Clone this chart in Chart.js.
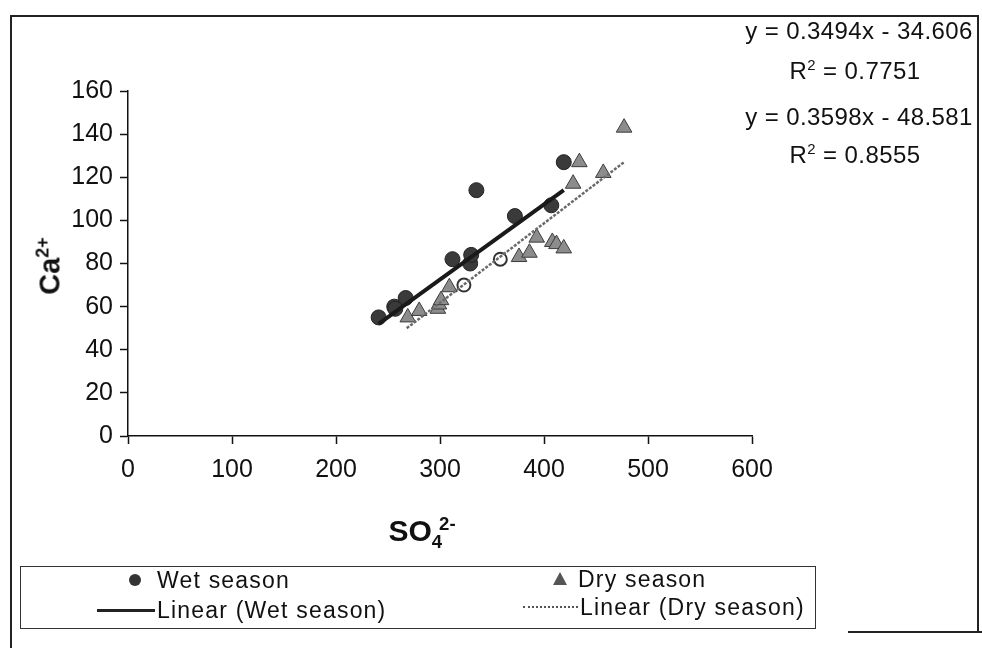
<!DOCTYPE html>
<html>
<head>
<meta charset="utf-8">
<script src="https://cdn.jsdelivr.net/npm/chart.js@4.4.1/dist/chart.umd.min.js"></script>
<style>
  html, body { margin: 0; padding: 0; background: #fff; }
  #wrap { position: relative; width: 982px; height: 648px; overflow: hidden; background: #fff;
          font-family: "Liberation Sans", Arial, sans-serif; color: #111; }
  #c { position: absolute; left: 0; top: 0; }
  .t { position: absolute; white-space: nowrap; line-height: 1; }
  .ctr { transform: translate(-50%, -50%); }
  .eq { font-size: 24px; letter-spacing: 0.4px; }
  .lg { font-size: 23px; letter-spacing: 1.2px; transform: translateY(-50%); }
  sup, sub { font-size: 62%; line-height: 0; }
  .line { position: absolute; background: #222; }
</style>
</head>
<body>
<div id="wrap">
  <canvas id="c" width="982" height="648"></canvas>

  <!-- frame -->
  <div class="line" style="left:10px; top:15px; width:2px; height:633px;"></div>
  <div class="line" style="left:10px; top:15px; width:969px; height:2px;"></div>
  <div class="line" style="left:977px; top:15px; width:2px; height:618px;"></div>
  <div class="line" style="left:848px; top:631px; width:134px; height:2px;"></div>

  <!-- equations -->
  <div class="t eq ctr" id="eq1" style="left:859px; top:31px;"></div>
  <div class="t eq ctr" id="r1" style="left:855px; top:71px;"></div>
  <div class="t eq ctr" id="eq2" style="left:859px; top:117px;"></div>
  <div class="t eq ctr" id="r2" style="left:855px; top:155px;"></div>

  <!-- axis titles -->
  <div class="t" id="ytitle" style="left:50px; top:266px; font-weight:bold; font-size:29px; transform: translate(-50%,-50%) rotate(-90deg);">Ca<sup>2+</sup></div>
  <div class="t" id="xtitle" style="left:422px; top:531px; font-weight:bold; font-size:30px; transform: translate(-50%,-50%);">SO<sub>4</sub><sup style="margin-left:-3px">2-</sup></div>

  <!-- legend box -->
  <div style="position:absolute; left:20px; top:566px; width:794px; height:61px; border:1px solid #333;"></div>
  <div style="position:absolute; left:129px; top:574px; width:12px; height:12px; border-radius:50%; background:#333;"></div>
  <div class="t lg" id="lg1" style="left:157px; top:580px;"></div>
  <div class="line" style="left:97px; top:609px; width:58px; height:3px; background:#222;"></div>
  <div class="t lg" id="lg2" style="left:157px; top:610px;"></div>
  <div style="position:absolute; left:553px; top:572px; width:0; height:0; border-left:7px solid transparent; border-right:7px solid transparent; border-bottom:13px solid #555;"></div>
  <div class="t lg" id="lg3" style="left:578px; top:579px;"></div>
  <div style="position:absolute; left:523px; top:606px; width:55px; height:0; border-top:2px dotted #555;"></div>
  <div class="t lg" id="lg4" style="left:580px; top:607px;"></div>
</div>

<script>
// ---- data ----
const wetX = [241, 256, 257, 267, 312, 329, 330, 335, 372, 407, 419];
const wetY = [55, 60, 59, 64, 82, 80, 84, 114, 102, 107, 127];
const wetHollowX = [323, 358];
const wetHollowY = [70, 82];
const dryX = [269, 280, 298, 299, 301, 309, 376, 386, 393, 408, 412, 419, 428, 434, 457, 477];
const dryY = [55, 58, 59, 61, 63, 69, 83, 85, 92, 90, 89, 87, 117, 127, 122, 143];
const wetTrendX = [241, 419];
const wetTrendY = [52, 114];
const dryTrendX = [268, 477];
const dryTrendY = [50, 127];
const xTicks = [0, 100, 200, 300, 400, 500, 600];
const yTicks = [0, 20, 40, 60, 80, 100, 120, 140, 160];
const seriesNames = ["Wet season", "Dry season", "Linear (Wet season)", "Linear (Dry season)"];
const equations = ["y = 0.3494x - 34.606", "R<sup>2</sup> = 0.7751", "y = 0.3598x - 48.581", "R<sup>2</sup> = 0.8555"];

document.getElementById('eq1').innerHTML = equations[0];
document.getElementById('r1').innerHTML = equations[1];
document.getElementById('eq2').innerHTML = equations[2];
document.getElementById('r2').innerHTML = equations[3];
document.getElementById('lg1').textContent = seriesNames[0];
document.getElementById('lg3').textContent = seriesNames[1];
document.getElementById('lg2').textContent = seriesNames[2];
document.getElementById('lg4').textContent = seriesNames[3];

const pts = (xs, ys) => xs.map((x, i) => ({ x: x, y: ys[i] }));

const axisFont = { family: '"Liberation Sans", Arial, sans-serif', size: 25 };

new Chart(document.getElementById('c'), {
  type: 'scatter',
  data: {
    datasets: [
      { label: seriesNames[2], data: pts(wetTrendX, wetTrendY), showLine: true,
        borderColor: '#1a1a1a', borderWidth: 4, pointRadius: 0, order: 0 },
      { label: seriesNames[3], data: pts(dryTrendX, dryTrendY), showLine: true,
        borderColor: '#6a6a6a', borderWidth: 2.5, borderDash: [3, 1.5], pointRadius: 0, order: 1 },
      { label: seriesNames[0], data: pts(wetX, wetY), pointStyle: 'circle', pointRadius: 7.5,
        backgroundColor: '#3a3a3a', borderColor: '#222', borderWidth: 1, order: 2 },
      { label: seriesNames[0] + ' (light)', data: pts(wetHollowX, wetHollowY), pointStyle: 'circle', pointRadius: 6.5,
        backgroundColor: '#fff', borderColor: '#333', borderWidth: 2, order: 3 },
      { label: seriesNames[1], data: pts(dryX, dryY), pointStyle: 'triangle', pointRadius: 9,
        backgroundColor: '#8c8c8c', borderColor: '#3c3c3c', borderWidth: 1, order: 4 }
    ]
  },
  options: {
    responsive: false,
    animation: false,
    events: [],
    layout: { padding: { left: 0, top: 91, right: 230, bottom: 152 } },
    plugins: { legend: { display: false }, tooltip: { enabled: false } },
    scales: {
      x: {
        type: 'linear', min: 0, max: 600,
        afterFit: s => { s.height = 60; },
        afterBuildTicks: s => { s.ticks = xTicks.map(v => ({ value: v })); },
        ticks: { color: '#111', font: axisFont, padding: 11, maxRotation: 0 },
        grid: { display: true, drawOnChartArea: false, drawTicks: true, tickLength: 8, tickColor: '#111', tickWidth: 1.5 },
        border: { display: true, color: '#111', width: 1.5 }
      },
      y: {
        type: 'linear', min: 0, max: 160,
        afterFit: s => { s.width = 128; },
        afterBuildTicks: s => { s.ticks = yTicks.map(v => ({ value: v })); },
        ticks: { color: '#111', font: axisFont, padding: 7 },
        grid: { display: true, drawOnChartArea: false, drawTicks: true, tickLength: 8, tickColor: '#111', tickWidth: 1.5 },
        border: { display: true, color: '#111', width: 1.5 }
      }
    }
  }
});
</script>
</body>
</html>
